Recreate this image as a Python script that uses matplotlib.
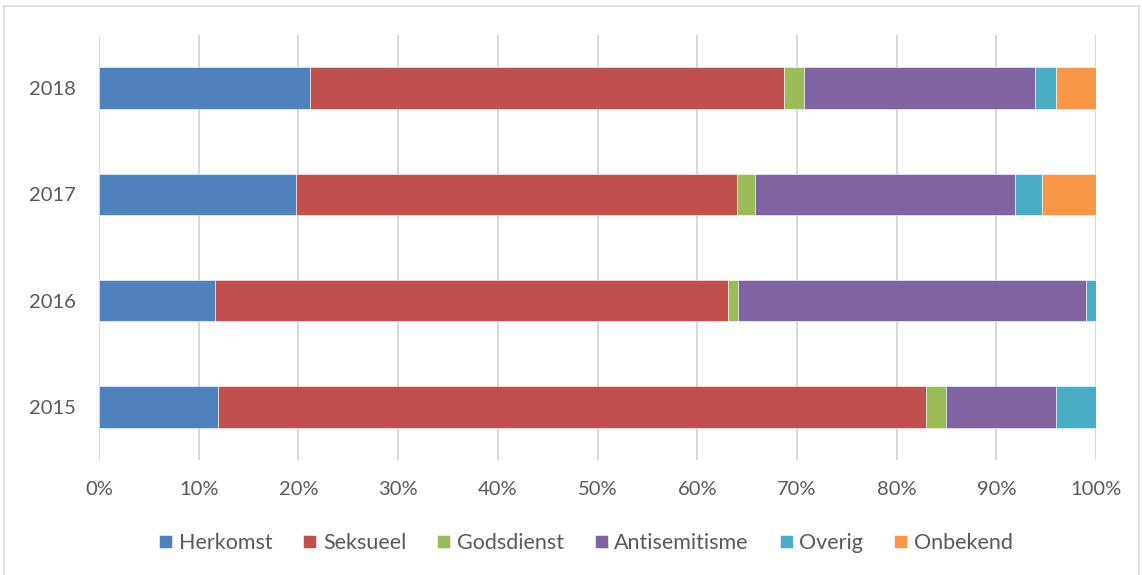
import matplotlib
matplotlib.use("Agg")
import matplotlib.pyplot as plt
from matplotlib.patches import Rectangle
import numpy as np

years = ["2015", "2016", "2017", "2018"]
series = ["Herkomst", "Seksueel", "Godsdienst", "Antisemitisme", "Overig", "Onbekend"]
herkomst = [11.9, 11.6, 19.8, 21.2]
seksueel = [71.0, 51.5, 44.2, 47.5]
godsdienst = [2.1, 1.0, 1.8, 2.0]
antisemitisme = [11.0, 34.9, 26.1, 23.2]
overig = [4.0, 1.0, 2.7, 2.1]
onbekend = [0.0, 0.0, 5.4, 4.0]
colors = ["#4f81bd", "#c0504d", "#9bbb59", "#8064a2", "#4bacc6", "#f79646"]
xticks = [0, 10, 20, 30, 40, 50, 60, 70, 80, 90, 100]
xticklabels = ["0%", "10%", "20%", "30%", "40%", "50%", "60%", "70%", "80%", "90%", "100%"]

plt.rcParams['font.family'] = ['Lato', 'DejaVu Sans']
fig = plt.figure(figsize=(11.42, 5.75), dpi=100)
ax = fig.add_axes([99/1142, 1-460/575, (1096-99)/1142, (460-35)/575])

data = [herkomst, seksueel, godsdienst, antisemitisme, overig, onbekend]
y = np.arange(len(years))
left = np.zeros(len(years))
for name, vals, c in zip(series, data, colors):
    vals = np.array(vals)
    ax.barh(y, vals, left=left, height=0.39, color=c, label=name,
            edgecolor="white", linewidth=0.4, zorder=3)
    left += vals

ax.set_xlim(0, 100)
ax.set_ylim(-0.5, 3.5)
ax.set_yticks(y)
ax.set_yticklabels(years)
ax.set_xticks(xticks)
ax.set_xticklabels(xticklabels)
ax.tick_params(axis='both', length=0, labelsize=14.5, colors="#595959")
ax.tick_params(axis='x', pad=15)
ax.tick_params(axis='y', pad=17)
ax.grid(axis='x', color="#d9d9d9", linewidth=1.5, zorder=0)
for s in ax.spines.values():
    s.set_visible(False)

leg = fig.legend(loc='center', bbox_to_anchor=(586/1142, 1-543/575), ncol=6,
                 frameon=False, fontsize=15.5, handlelength=0.6, handleheight=0.6,
                 handletextpad=0.3, columnspacing=1.45, labelcolor="#595959")

fig.patches.append(Rectangle((4/1142, -0.01), (1139-4)/1142, 1-6/575 + 0.01,
                             transform=fig.transFigure, fill=False,
                             edgecolor="#d9d9d9", linewidth=1.2))

fig.savefig("out.png", dpi=100)
